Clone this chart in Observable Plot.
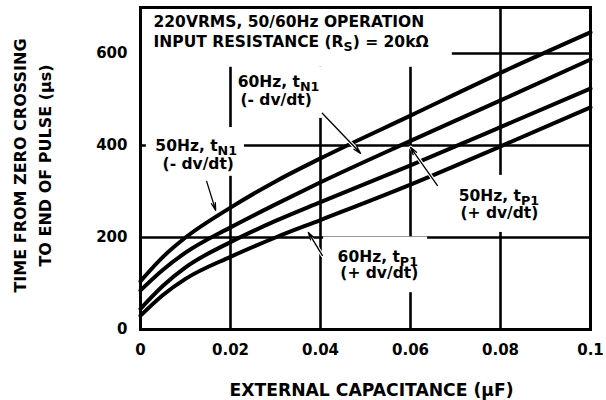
<!DOCTYPE html>
<html><head><meta charset="utf-8">
<script src="https://cdn.jsdelivr.net/npm/d3@7"></script>
<script src="https://cdn.jsdelivr.net/npm/@observablehq/plot@0.6"></script>
<style>html,body{margin:0;padding:0;background:#fff;}</style>
</head><body><div id="chart"></div>
<script>
// External capacitance (µF)
const capacitance = [0, 0.005, 0.01, 0.02, 0.03, 0.04, 0.06, 0.08, 0.1];
// Time from zero crossing to end of pulse (µs)
const t50N1 = [105, 158, 200, 265, 322, 372, 465, 558, 646];
const t60N1 = [85, 130, 167, 222, 272, 320, 410, 498, 587];
const t50P1 = [45, 95, 135, 190, 236, 277, 357, 440, 524];
const t60P1 = [30, 75, 110, 158, 200, 238, 315, 398, 483];
const seriesNames = ["50Hz, tN1", "60Hz, tN1", "50Hz, tP1", "60Hz, tP1"];

const xTicks = [0, 0.02, 0.04, 0.06, 0.08, 0.1];
const xTickLabels = ["0", "0.02", "0.04", "0.06", "0.08", "0.1"];
const yTicks = [0, 200, 400, 600];
const yTickLabels = ["0", "200", "400", "600"];

const titleLines = ["220VRMS, 50/60Hz OPERATION", "INPUT RESISTANCE (R_S) = 20kΩ"];
const xTitle = "EXTERNAL CAPACITANCE (µF)";
const yTitleLines = ["TIME FROM ZERO CROSSING", "TO END OF PULSE (µs)"];

const rows = [];
[t50N1, t60N1, t50P1, t60P1].forEach((vals, i) =>
  vals.forEach((v, j) => rows.push({series: seriesNames[i], c: capacitance[j], t: v})));

// annotation layout (data coordinates)
const labels = [
  {x: 0.0029, y: 657, text: titleLines[0]},
  {x: 0.0029, y: 615, text: titleLines[1]},
  {x: 0.0216, y: 528, text: "60Hz, t_N1"},
  {x: 0.0222, y: 489, text: "(- dv/dt)"},
  {x: 0.0033, y: 389, text: "50Hz, t_N1"},
  {x: 0.0049, y: 348, text: "(- dv/dt)"},
  {x: 0.0707, y: 280, text: "50Hz, t_P1"},
  {x: 0.0711, y: 243, text: "(+ dv/dt)"},
  {x: 0.0438, y: 146, text: "60Hz, t_P1"},
  {x: 0.0444, y: 111, text: "(+ dv/dt)"}
];
const masks = [
  {x1: 0, x2: 0.0693, y1: 570, y2: 700},
  {x1: 0.0206, x2: 0.0413, y1: 459, y2: 570},
  {x1: 0.0013, x2: 0.0231, y1: 333, y2: 439},
  {x1: 0.0693, x2: 0.0893, y1: 211, y2: 335},
  {x1: 0.0407, x2: 0.0638, y1: 80, y2: 201}
];
const arrows = [
  {x1: 0.0147, y1: 322, x2: 0.0167, y2: 259},
  {x1: 0.0404, y1: 470, x2: 0.0489, y2: 383},
  {x1: 0.0660, y1: 313, x2: 0.0600, y2: 396},
  {x1: 0.0404, y1: 161, x2: 0.0373, y2: 211}
];

const font = "'DejaVu Sans', sans-serif";
const chart = Plot.plot({
  width: 606, height: 400,
  marginLeft: 140, marginRight: 16, marginTop: 7, marginBottom: 71,
  style: {fontFamily: font, fontWeight: "bold", fontSize: "15px", color: "black", background: "white"},
  x: {domain: [0, 0.1]},
  y: {domain: [0, 700]},
  marks: [
    Plot.ruleX(xTicks, {stroke: "black", strokeWidth: 2.6}),
    Plot.ruleY(yTicks, {stroke: "black", strokeWidth: 2.6}),
    Plot.rect(masks, {x1: "x1", x2: "x2", y1: "y1", y2: "y2", fill: "white"}),
    Plot.line(rows, {x: "c", y: "t", z: "series", stroke: "black", strokeWidth: 4, curve: "monotone-x"}),
    Plot.frame({stroke: "black", strokeWidth: 3}),
    Plot.axisX({ticks: xTicks, tickFormat: d => xTickLabels[xTicks.indexOf(d)], tickSize: 0, tickPadding: 15, label: null, fontSize: 15, fontWeight: "bold"}),
    Plot.axisY({ticks: yTicks, tickFormat: d => yTickLabels[yTicks.indexOf(d)], tickSize: 0, tickPadding: 13, label: null, fontSize: 15, fontWeight: "bold"}),
    Plot.arrow(arrows, {x1: "x1", y1: "y1", x2: "x2", y2: "y2", stroke: "white", strokeWidth: 3.5, headLength: 0}),
    Plot.arrow(arrows, {x1: "x1", y1: "y1", x2: "x2", y2: "y2", stroke: "black", strokeWidth: 1.3, headLength: 9, headAngle: 30}),
    Plot.text(labels, {x: "x", y: "y", text: "text", textAnchor: "start", lineAnchor: "bottom", fontSize: 15.5, fontWeight: "bold"}),
    Plot.text([xTitle], {frameAnchor: "bottom", dx: 6, dy: 66, textAnchor: "middle", lineAnchor: "bottom", fontSize: 17.2, fontWeight: "bold"}),
    Plot.text([yTitleLines[0]], {frameAnchor: "left", rotate: -90, dx: -115, dy: -3, textAnchor: "middle", lineAnchor: "bottom", fontSize: 16, fontWeight: "bold"}),
    Plot.text([yTitleLines[1]], {frameAnchor: "left", rotate: -90, dx: -90, dy: -3, textAnchor: "middle", lineAnchor: "bottom", fontSize: 16, fontWeight: "bold"})
  ]
});

// render "_XX" as subscripts
chart.querySelectorAll("text").forEach(t => {
  const walker = document.createTreeWalker(t, NodeFilter.SHOW_TEXT);
  const nodes = [];
  while (walker.nextNode()) nodes.push(walker.currentNode);
  nodes.forEach(n => {
    if (!n.nodeValue.includes("_")) return;
    const parts = n.nodeValue.split(/_([A-Za-z0-9]+)/);
    const ns = "http://www.w3.org/2000/svg";
    const frag = document.createDocumentFragment();
    parts.forEach((p, k) => {
      if (k % 2 === 1) {
        const s = document.createElementNS(ns, "tspan");
        s.setAttribute("dy", "4");
        s.setAttribute("font-size", "82%");
        s.textContent = p;
        frag.appendChild(s);
      } else if (p) {
        const s = document.createElementNS(ns, "tspan");
        if (k > 0) s.setAttribute("dy", "-4");
        s.textContent = p;
        frag.appendChild(s);
      }
    });
    n.parentNode.replaceChild(frag, n);
  });
});

document.getElementById("chart").appendChild(chart);
</script>
</body></html>
